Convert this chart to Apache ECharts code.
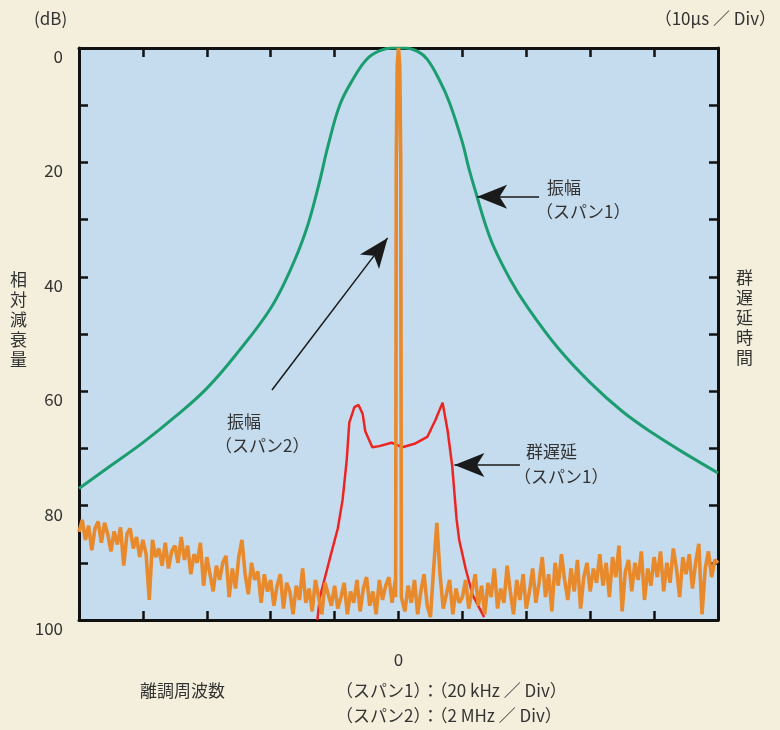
<!DOCTYPE html>
<html>
<head>
<meta charset="utf-8">
<script src="https://cdn.jsdelivr.net/npm/echarts@6/dist/echarts.min.js"></script>
<style>
html, body { margin: 0; padding: 0; background: #f4efdc; }
#main { width: 780px; height: 730px; }
</style>
</head>
<body>
<div id="main"></div>
<script>
// 振幅 (スパン1) : 離調 (Div) / 相対減衰量 (dB)
const greenX = [-5, -4.5, -4, -3.5, -3, -2.5, -2, -1.7, -1.45, -1.25, -1.1, -0.92, -0.72, -0.5, -0.3, -0.1,
  0.1, 0.3, 0.45, 0.64, 0.8, 1, 1.1, 1.23, 1.35, 1.5, 1.75, 2, 2.5, 3, 3.5, 4, 4.5, 5]
const greenDb = [77, 73, 69, 64.5, 59.5, 53, 45.5, 39, 32, 24, 17, 10, 5.6, 2, 0.5, 0,
  0, 0.6, 2, 5.6, 9.6, 16.5, 21, 26, 30.5, 35, 40.5, 45, 52.5, 58.5, 63.5, 67.5, 71, 74.3]

// 群遅延 (スパン1)
const redX = [-1.27, -1.23, -1.08, -0.95, -0.875, -0.81, -0.77, -0.69, -0.625, -0.56, -0.52, -0.41, -0.3,
  -0.11, 0.06, 0.25, 0.45, 0.58, 0.69, 0.77, 0.84, 0.91, 0.95, 1.05, 1.16, 1.34]
const redDb = [100, 96, 89.5, 84, 79, 72, 65.5, 62.8, 62.4, 64, 67, 69.8, 69.6,
  69, 69.8, 69.2, 68, 65, 62, 67, 73, 82.5, 86, 91, 95.6, 99.5]

// 振幅 (スパン2) : x = -5 から 0.05 刻み
const orangeStart = -5
const orangeStep = 0.05
const orangeDb = [
  84.6, 82.5, 86, 83.5, 87.8, 84, 82.8, 86.5, 83, 85, 88, 84.5, 86.8, 83.8, 90.5, 85, 84, 87.5, 85.5, 89,
  86, 88.5, 96.5, 86, 89, 87.5, 90.5, 86.5, 91, 88, 87, 90, 85.5, 89.5, 87, 92, 88.5, 90, 86.5, 94,
  89, 92, 95, 90.5, 93, 90, 88.8, 96, 91, 94.5, 89, 86, 92, 95.5, 90, 93, 91.5, 97, 92, 95,
  93, 97.5, 94, 92, 98, 93.5, 95, 99, 94, 96.5, 91, 97, 94.5, 98.5, 93, 96, 99, 93.5, 95.5, 97.5,
  94, 98, 96, 93.5, 99, 95, 97, 93, 98.5, 94.5, 92.5, 97.5, 95, 99, 93, 96.5, 94, 92.5, 97, 93,
  95,
  96, 98.5, 94, 97, 93, 99, 95, 92, 97.5, 99.5, 91, 83, 92, 98, 95.5, 93, 99, 94.5, 97, 96,
  93, 98, 95, 92, 97.5, 94, 99, 93.5, 96, 91, 98, 94.5, 97, 90.5, 95, 99, 93, 96.5, 92, 98,
  95, 91, 97, 93.5, 89, 96, 92, 98.5, 90, 94, 88.5, 93, 96.5, 91, 95, 89.5, 98, 92.5, 90, 95,
  91, 93.5, 88.5, 94, 90, 96, 89, 92.5, 87, 98.5, 91.5, 89.5, 95, 90, 93, 88, 96.5, 91, 94, 89,
  92.5, 88, 95, 90, 93.5, 87.5, 91, 96, 89, 92, 88.5, 94.5, 90, 86.7, 99, 91, 88, 92.5, 89.5, 90
]
// 中心のスパイク
const spikeX = [-0.045, -0.04, -0.035, -0.02, 0, 0.02, 0.035, 0.04, 0.045]
const spikeDb = [96, 60, 20, 3, 0, 3, 20, 60, 96]

const yTicks = [0, 20, 40, 60, 80, 100]

const zip = (xs, ys) => xs.map((x, i) => [x, ys[i]])

const orangeData = orangeDb
  .map((v, i) => [+(orangeStart + i * orangeStep).toFixed(3), v])
  .filter(p => Math.abs(p[0]) > 0.046)
  .concat(zip(spikeX, spikeDb))
  .sort((a, b) => a[0] - b[0])

const font = '"Noto Sans CJK JP", "Noto Sans", sans-serif'
const txtColor = '#333'

function txt (text, x, y, opts) {
  return {
    type: 'text',
    left: x,
    top: y,
    style: Object.assign({ text: text, font: '17px ' + font, fill: txtColor, letterSpacing: 2 }, opts || {})
  }
}

const axisLine = { show: true, onZero: false, lineStyle: { color: '#111', width: 3 } }
const axisTick = { show: true, inside: true, length: 9, lineStyle: { color: '#111', width: 2.5 } }

const chart = echarts.init(document.getElementById('main'))
chart.setOption({
  backgroundColor: '#f4efdc',
  animation: false,
  grid: {
    left: 79, right: 62, top: 48, bottom: 110,
    show: true, backgroundColor: '#c5dcee', borderWidth: 0
  },
  xAxis: [
    {
      type: 'value', min: -5, max: 5, interval: 1,
      axisLine: axisLine, axisTick: axisTick, splitLine: { show: false },
      axisLabel: {
        margin: 31, color: txtColor, fontSize: 17, fontFamily: font,
        formatter: v => (v === 0 ? '0' : '')
      }
    },
    {
      type: 'value', position: 'top', min: -5, max: 5, interval: 1,
      axisLine: axisLine, axisTick: axisTick, splitLine: { show: false },
      axisLabel: { show: false }
    }
  ],
  yAxis: [
    {
      type: 'value', inverse: true, min: 0, max: 100, interval: 10,
      axisLine: axisLine, axisTick: axisTick, splitLine: { show: false },
      axisLabel: {
        margin: 16, color: txtColor, fontSize: 17, fontFamily: font,
        verticalAlign: 'top', lineHeight: 17,
        formatter: v => (yTicks.indexOf(v) >= 0 ? String(v) : '')
      }
    },
    {
      type: 'value', position: 'right', inverse: true, min: 0, max: 100, interval: 10,
      axisLine: axisLine, axisTick: axisTick, splitLine: { show: false },
      axisLabel: { show: false }
    }
  ],
  series: [
    {
      name: '振幅(スパン1)',
      type: 'line',
      data: zip(greenX, greenDb),
      smooth: 0.4,
      showSymbol: false,
      lineStyle: { color: '#1c9d70', width: 3 },
      markLine: {
        silent: true,
        symbol: ['none', 'arrow'],
        symbolSize: [18, 30],
        label: { show: false },
        lineStyle: { color: '#1a1a1a', width: 1.5, type: 'solid' },
        data: [
          [{ coord: [2.2, 26] }, { coord: [1.23, 26] }],
          [{ coord: [-1.98, 59.8] }, { coord: [-0.17, 33.2] }],
          [{ coord: [1.9, 72.9] }, { coord: [0.875, 72.9] }]
        ]
      }
    },
    {
      name: '群遅延(スパン1)',
      type: 'line',
      data: zip(redX, redDb),
      showSymbol: false,
      lineStyle: { color: '#ee2420', width: 2.5 }
    },
    {
      name: '振幅(スパン2)',
      type: 'line',
      data: orangeData,
      showSymbol: false,
      lineStyle: { color: '#e8892c', width: 3.6 }
    }
  ],
  graphic: [
    txt('(dB)', 34, 10, { letterSpacing: 0 }),
    { type: 'text', right: 4, top: 10, style: { text: '（10μs ／ Div）', font: '17px ' + font, fill: txtColor } },
    txt('相\n対\n減\n衰\n量', 10, 270, { lineHeight: 20, letterSpacing: 0 }),
    txt('群\n遅\n延\n時\n間', 736, 268, { lineHeight: 20, letterSpacing: 0 }),
    txt('振幅', 547, 179),
    txt('（スパン1）', 536, 203),
    txt('振幅', 227, 413),
    txt('（スパン2）', 215, 437),
    txt('群遅延', 526, 443),
    txt('（スパン1）', 514, 468),
    txt('離調周波数', 140, 682),
    txt('（スパン1）：（20 kHz ／ Div）', 336, 682),
    txt('（スパン2）：（2 MHz ／ Div）', 336, 707)
  ]
})
</script>
</body>
</html>
